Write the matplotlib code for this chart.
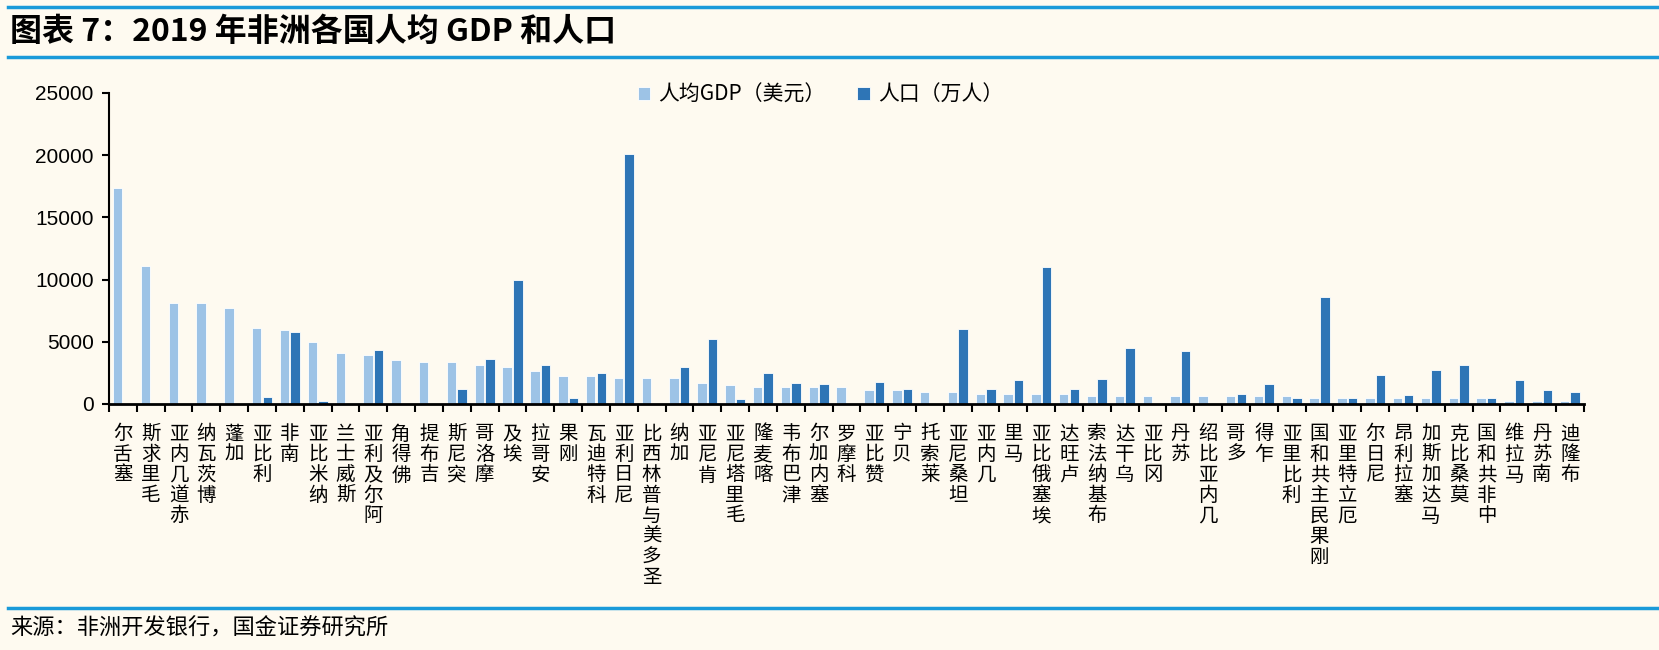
import numpy as np
import matplotlib.pyplot as plt
from matplotlib.lines import Line2D

plt.rcParams['font.family'] = ['Noto Sans CJK SC', 'DejaVu Sans']

countries = ['塞舌尔', '毛里求斯', '赤道几内亚', '博茨瓦纳', '加蓬', '利比亚', '南非', '纳米比亚',
             '斯威士兰', '阿尔及利亚', '佛得角', '吉布提', '突尼斯', '摩洛哥', '埃及', '安哥拉',
             '刚果', '科特迪瓦', '尼日利亚', '圣多美与普林西比', '加纳', '肯尼亚', '毛里塔尼亚',
             '喀麦隆', '津巴布韦', '塞内加尔', '科摩罗', '赞比亚', '贝宁', '莱索托', '坦桑尼亚',
             '几内亚', '马里', '埃塞俄比亚', '卢旺达', '布基纳法索', '乌干达', '冈比亚', '苏丹',
             '几内亚比绍', '多哥', '乍得', '利比里亚', '刚果民主共和国', '厄立特里亚', '尼日尔',
             '塞拉利昂', '马达加斯加', '莫桑比克', '中非共和国', '马拉维', '南苏丹', '布隆迪']

# 人均GDP（美元）
gdp = [17400, 11100, 8100, 8100, 7750, 6100, 5950, 5000,
       4100, 3900, 3550, 3350, 3350, 3150, 3000, 2650,
       2250, 2250, 2050, 2050, 2050, 1700, 1500,
       1350, 1350, 1350, 1350, 1150, 1150, 950, 950,
       800, 800, 800, 800, 650, 650, 650, 650,
       650, 650, 650, 650, 450, 450, 450,
       450, 450, 450, 450, 250, 250, 250]

# 人口（万人），图中看不到的记为 nan
pop = [np.nan, np.nan, np.nan, np.nan, np.nan, 600, 5800, 250,
       np.nan, 4300, np.nan, np.nan, 1170, 3600, 10000, 3150,
       450, 2450, 20100, np.nan, 3000, 5200, 420,
       2450, 1700, 1600, np.nan, 1750, 1180, np.nan, 6000,
       1200, 1950, 11000, 1200, 2000, 4500, np.nan, 4250,
       np.nan, 800, 1600, 480, 8600, 450, 2300,
       700, 2700, 3100, 470, 1900, 1100, 1000]

bg = '#FEFAF0'
light = '#9DC3E6'
dark = '#2E75B6'
line_blue = '#1A9AD9'

fig = plt.figure(figsize=(16.59, 6.5), dpi=100, facecolor=bg)
ax = fig.add_axes([0.0657, 0.3785, 0.889, 0.4785])
ax.set_facecolor(bg)

x = np.arange(len(countries))
ax.bar(x - 0.19, gdp, 0.34, color=light, edgecolor='white', linewidth=0.6, label='人均GDP（美元）')
ax.bar(x + 0.19, pop, 0.34, color=dark, edgecolor='white', linewidth=0.6, label='人口（万人）')

ax.set_xlim(-0.5, len(countries) - 0.5)
ax.set_ylim(0, 25000)
ax.set_yticks(range(0, 25001, 5000))
ax.set_yticklabels([str(v) for v in range(0, 25001, 5000)], fontfamily='Liberation Sans', fontsize=15)
ax.tick_params(axis='y', length=5, width=1.5, direction='out', pad=6)

# labels read bottom-to-top (rotated text with upright characters)
ax.set_xticks(x)
ax.set_xticklabels(['\n'.join(reversed(c)) for c in countries], fontsize=14, linespacing=0.97, va='top')
ax.tick_params(axis='x', which='major', length=0, pad=14)
ax.set_xticks(np.arange(-0.5, len(countries), 1), minor=True)
ax.tick_params(axis='x', which='minor', length=6, width=1.5, direction='out')

for s in ['top', 'right']:
    ax.spines[s].set_visible(False)
ax.spines['left'].set_linewidth(1.5)
ax.spines['bottom'].set_linewidth(2)

fig.legend(loc='center', bbox_to_anchor=(0.4945, 0.854), ncol=2, frameon=False,
           fontsize=15, handlelength=0.6, handleheight=0.6, handletextpad=0.4,
           columnspacing=1.5)

fig.add_artist(Line2D([0.005, 1], [1 - 7 / 650] * 2, color=line_blue, lw=2.5, transform=fig.transFigure))
fig.add_artist(Line2D([0.005, 1], [1 - 57 / 650] * 2, color=line_blue, lw=2.5, transform=fig.transFigure))
fig.add_artist(Line2D([0.005, 1], [1 - 608 / 650] * 2, color=line_blue, lw=2.5, transform=fig.transFigure))

fig.text(0.006, 1 - 32 / 650, '图表 7：2019 年非洲各国人均 GDP 和人口', fontsize=23,
         fontweight='bold', va='center', ha='left')
fig.text(0.006, 1 - 628 / 650, '来源：非洲开发银行，国金证券研究所', fontsize=16,
         va='center', ha='left')

fig.savefig('out.png', dpi=100, facecolor=bg)
